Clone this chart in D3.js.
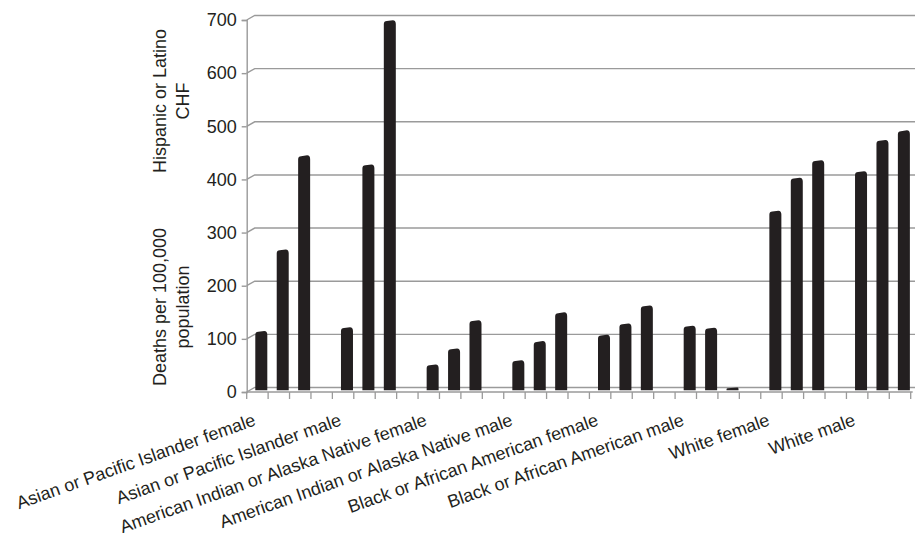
<!DOCTYPE html>
<html>
<head>
<meta charset="utf-8">
<script src="https://cdn.jsdelivr.net/npm/d3@7"></script>
<style>
  html, body { margin: 0; padding: 0; background: #fff; }
  svg { display: block; }
  text { font-family: "Liberation Sans", Arial, Helvetica, sans-serif; fill: #231f20; }
</style>
</head>
<body>
<svg id="chart" width="915" height="533"></svg>
<script>
// ---- data ----
const categories = [
  "Asian or Pacific Islander female",
  "Asian or Pacific Islander male",
  "American Indian or Alaska Native female",
  "American Indian or Alaska Native male",
  "Black or African American female",
  "Black or African American male",
  "White female",
  "White male"
];
// three bars per group (left, middle, right)
const series1 = [110, 117, 47, 55, 103, 120, 336, 410];
const series2 = [263, 423, 77, 91, 124, 116, 398, 469];
const series3 = [440, 694, 130, 145, 158, 2, 431, 487];
const yTicks = [0, 100, 200, 300, 400, 500, 600, 700];
const yTitleTop = ["Hispanic or Latino", "CHF"];
const yTitleBottom = ["Deaths per 100,000", "population"];

// ---- build slots: 3 bars + 1 gap per group, no trailing gap ----
const allSeries = [series1, series2, series3];
const slots = [];
categories.forEach((c, g) => {
  allSeries.forEach((s, k) => slots.push({ group: g, k, value: s[g] }));
  if (g < categories.length - 1) slots.push(null);
});
const nSlots = slots.length; // 31

const svg = d3.select("#chart");

const left = 246.7, right = 910.7;
const depthX = 8, depthY = -4.5;

const x = d3.scaleBand().domain(d3.range(nSlots)).range([left, right]).paddingInner(0).paddingOuter(0);
const yFront = d3.scaleLinear().domain([0, 700]).range([392, 20]);
const yBar = d3.scaleLinear().domain([0, 700]).range([390.3, 17.8]);

const gridColor = "#9a9a9a";

// gridlines (back wall) with slanted wall segment
const grid = svg.append("g");
yTicks.forEach(v => {
  const yf = yFront(v), yb = yFront(v) + depthY;
  grid.append("path")
    .attr("d", `M${left},${yf}L${left + depthX},${yb}L915,${yb}`)
    .attr("fill", "none")
    .attr("stroke", gridColor)
    .attr("stroke-width", 1.4);
});
// floor front edge
svg.append("line")
  .attr("x1", left).attr("x2", right + 2)
  .attr("y1", yFront(0)).attr("y2", yFront(0))
  .attr("stroke", gridColor).attr("stroke-width", 1.4);

// y axis (front edge)
const yAxis = d3.axisLeft(yFront).tickValues(yTicks).tickSize(5).tickPadding(5).tickFormat(d3.format("d"));
const ya = svg.append("g").attr("transform", `translate(${left},0)`).call(yAxis);
ya.select(".domain").attr("stroke", gridColor).attr("stroke-width", 1.4);
ya.selectAll(".tick line").attr("stroke", gridColor).attr("stroke-width", 1.4);
ya.selectAll(".tick text").attr("font-size", 18).attr("fill", "#231f20")
  .style("font-family", '"Liberation Sans", Arial, sans-serif');

// x ticks at slot boundaries
const xb = svg.append("g");
d3.range(nSlots + 1).forEach(i => {
  const xx = left + i * x.bandwidth();
  xb.append("line")
    .attr("x1", xx).attr("x2", xx)
    .attr("y1", yFront(0)).attr("y2", yFront(0) + 7)
    .attr("stroke", gridColor).attr("stroke-width", 1.3);
});

// bars
const barW = 12, barOff = 8.6;
const barData = slots.map((s, i) => s ? { ...s, i } : null).filter(d => d);
svg.append("g").selectAll("path")
  .data(barData)
  .join("path")
  .attr("d", d => {
    const x0 = x(d.i) + barOff, x1 = x0 + barW;
    const yb = yBar(0);
    let yt = yBar(d.value);
    if (yb - yt < 2) yt = yb - 2;
    const r = Math.min(3, (yb - yt) / 2);
    return `M${x0},${yb}L${x0},${yt + r}Q${x0},${yt} ${x0 + r},${yt}L${x1 - r},${yt - 0.8}Q${x1},${yt - 0.8} ${x1},${yt + r}L${x1},${yb}Z`;
  })
  .attr("fill", "#231f20");

// x category labels, rotated
svg.append("g").selectAll("text")
  .data(categories)
  .join("text")
  .attr("transform", (d, g) => `translate(${x(g * 4) + 10},425) rotate(-19.5)`)
  .attr("text-anchor", "end")
  .attr("font-size", 18)
  .text(d => d);

// y titles
function vtitle(lines, cy) {
  lines.forEach((t, j) => {
    svg.append("text")
      .attr("transform", `translate(${160 + j * 23},${cy}) rotate(-90)`)
      .attr("text-anchor", "middle")
      .attr("dominant-baseline", "central")
      .attr("font-size", 18)
      .text(t);
  });
}
vtitle(yTitleTop, 101);
vtitle(yTitleBottom, 307);
</script>
</body>
</html>
